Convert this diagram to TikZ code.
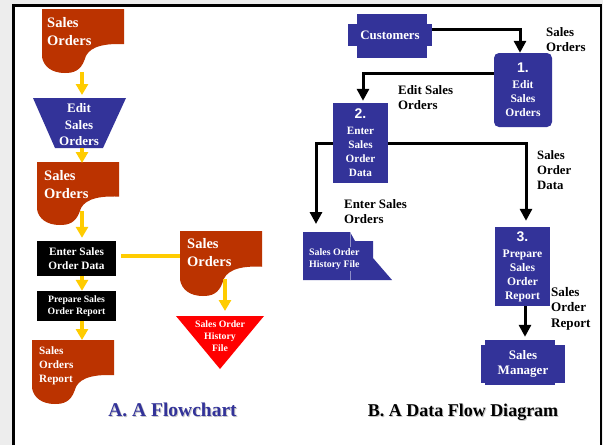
\documentclass[tikz,border=0pt]{standalone}
\usepackage{fontspec}
\setmainfont{Liberation Serif}
\newfontfamily\digitfont{Liberation Sans}
\usetikzlibrary{arrows.meta,calc}
\definecolor{docred}{HTML}{BB3300}
\definecolor{dfdblue}{HTML}{333399}
\definecolor{flowyellow}{HTML}{FFCC00}
\definecolor{storered}{HTML}{FF0000}
\definecolor{pagegray}{HTML}{EDEDED}
\newcommand{\setfs}[2]{\fontsize{#1}{#2}\selectfont}
\newcommand{\stepno}[1]{{\digitfont\bfseries\setfs{14}{14}#1}\\[2pt]}

\begin{document}
\begin{tikzpicture}[x=1pt,y=-1pt,
  % document sheet with a wavy lower edge, drawn in a unit box
  docsheet/.pic={\fill[docred] (0,0) -- (1,0) -- (1,0.55)
      .. controls (0.70,0.53) and (0.55,0.62) .. (0.52,0.79)
      .. controls (0.47,0.97) and (0.38,1.00) .. (0.28,1.00)
      .. controls (0.12,1.00) and (0.02,0.90) .. (0,0.75) -- cycle;},
  doctext/.style={text=white, align=left, anchor=north west, inner sep=0pt},
  whitetext/.style={text=white, align=center, inner sep=0pt},
  blackbox/.style={fill=black, text=white, align=center, inner sep=0pt},
  dfdbox/.style={fill=dfdblue, text=white, align=center, inner sep=0pt},
  lbl/.style={text=black, align=left, anchor=north west, inner sep=0pt},
  caption/.style={anchor=base, inner sep=0pt},
  yarrow/.style={draw=flowyellow, line width=4pt, -{Triangle[length=11pt,width=12pt,fill=flowyellow]}},
  yline/.style={draw=flowyellow, line width=4.5pt},
  dfdarrow/.style={draw=black, line width=3pt, -{Triangle[length=12pt,width=12pt]}}
]
\useasboundingbox (0,0) rectangle (603,445);
% page and frame
\fill[pagegray] (0,0) rectangle (603,445);
\fill[white] (13.5,5.5) rectangle (601,445);
\draw[line width=3pt] (13.5,445) -- (13.5,5.5) -- (601,5.5);
\draw[line width=2.5pt] (601,4) -- (601,445);

% ---------- A. flowchart ----------
\coordinate (colA) at (82,0);
\pic[xscale=82,yscale=64] at (42,9) {docsheet};
\node[doctext, font=\bfseries\setfs{14.5}{18}] (doc1) at (47,17) {Sales\\Orders};

\fill[dfdblue] (33,98) -- (126,98) -- (103,148) -- (55,148) -- cycle;
\node[whitetext, font=\bfseries\setfs{13}{16.5}] (edit) at (79,125) {Edit\\Sales\\Orders};

\pic[xscale=82,yscale=63] at (37,162) {docsheet};
\node[doctext, font=\bfseries\setfs{14.5}{18}] (doc2) at (44,170) {Sales\\Orders};

\node[blackbox, minimum width=79pt, minimum height=35pt, font=\bfseries\setfs{11.3}{14}]
  (enter) at (76.5,258.5) {Enter Sales\\Order Data};
\node[blackbox, minimum width=79pt, minimum height=30pt, font=\bfseries\setfs{9.75}{11.5}]
  (prep) at (76.5,306) {Prepare Sales\\Order Report};

\pic[xscale=82,yscale=64] at (32,340) {docsheet};
\node[doctext, font=\bfseries\setfs{11.2}{14}] (doc3) at (39,347) {Sales\\Orders\\Report};

\pic[xscale=82,yscale=65] at (180,231) {docsheet};
\node[doctext, font=\bfseries\setfs{14.5}{18}] (doc4) at (187,238) {Sales\\Orders};

\fill[storered] (176,316) -- (264,316) -- (220,369) -- cycle;
\node[whitetext, font=\bfseries\setfs{9.8}{12}] (hist) at (220,336.5) {Sales Order\\History\\File};

% flow connectors
\coordinate (doc1-out) at (82,72);
\coordinate (edit-in) at (82,95);
\coordinate (edit-out) at (82,148);
\coordinate (doc2-in) at (82,163);
\coordinate (doc2-out) at (82,211);
\coordinate (doc3-in) at (82,340);
\coordinate (doc4-left) at (180,256);
\coordinate (doc4-out) at (225,279);
\coordinate (hist-in) at (225,311);
\draw[yarrow] (doc1-out) -- (edit-in);
\draw[yarrow] (edit-out) -- (doc2-in);
\draw[yarrow, shorten >=3pt] (doc2-out) -- (enter.north -| colA);
\draw[yarrow] (enter.south -| colA) -- (prep.north -| colA);
\draw[yarrow] (prep.south -| colA) -- (doc3-in);
\draw[yline] ([xshift=5pt,yshift=2.5pt]enter.east) -- (doc4-left);
\draw[yarrow] (doc4-out) -- (hist-in);

\node[caption, text=gray!45, font=\bfseries\setfs{19.5}{22}] (capAshade) at (173.5,417.5) {A. A Flowchart};
\node[caption, text=dfdblue, font=\bfseries\setfs{19.5}{22}] (capA) at (172.5,416.5) {A. A Flowchart};

% ---------- B. data flow diagram ----------
\fill[dfdblue] (357,14) rectangle (427,58);
\node[dfdbox, minimum width=84pt, minimum height=22pt, font=\bfseries\setfs{12.9}{15}]
  (cust) at (390,35) {Customers};

\node[dfdbox, rounded corners=5pt, minimum width=58pt, minimum height=74pt, font=\bfseries\setfs{11.5}{14}]
  (p1) at (523,90) {\stepno{1.}Edit\\Sales\\Orders};
\node[dfdbox, minimum width=55pt, minimum height=80pt, font=\bfseries\setfs{11.2}{14}]
  (p2) at (360.5,143) {\stepno{2.}Enter\\Sales\\Order\\Data};
\node[dfdbox, minimum width=55pt, minimum height=79pt, font=\bfseries\setfs{11.6}{14}]
  (p3) at (522.5,266.5) {\stepno{3.}Prepare\\Sales\\Order\\Report};

\fill[dfdblue] (485,340) rectangle (555,385);
\node[dfdbox, minimum width=84pt, minimum height=38pt, font=\bfseries\setfs{13}{15.5}]
  (mgr) at (523,364) {Sales\\Manager};

% data store: a folder-like block with a faint seam behind its label
\fill[dfdblue] (303,232) -- (350,232) -- (355,241) -- (373,241) -- (373,258)
  -- (392,280) -- (303,280) -- cycle;
\draw[dfdblue!55!white, line width=0.4pt] (350,233) -- (350,280);
\node[lbl, text=white, fill=dfdblue, inner sep=1.5pt, font=\bfseries\setfs{9.9}{12.3}]
  (store) at (307.5,246.5) {Sales Order\\History File};
\coordinate (store-in) at (316,224);

\draw[dfdarrow] ([yshift=6pt]cust.east) -| ([xshift=-3pt]p1.north);
\draw[dfdarrow] ([yshift=17pt]p1.west) -| ([xshift=2.5pt,yshift=2pt]p2.north);
\draw[dfdarrow] (p2.west) -| (store-in);
\draw[dfdarrow] (p2.east) -| ([xshift=3.5pt,yshift=6pt]p3.north);
\draw[dfdarrow] ([xshift=2.5pt]p3.south) -- ([xshift=2pt,yshift=8pt]mgr.north);

\node[lbl, font=\bfseries\setfs{12.9}{15.7}] (l-so) at (546,27) {Sales\\Orders};
\node[lbl, font=\bfseries\setfs{12.9}{15.7}] (l-eso) at (398,85) {Edit Sales\\Orders};
\node[lbl, font=\bfseries\setfs{12.9}{15.7}] (l-enso) at (344,199) {Enter Sales\\Orders};
\node[lbl, font=\bfseries\setfs{12.75}{15.3}] (l-sod) at (537,150) {Sales\\Order\\Data};
\node[lbl, font=\bfseries\setfs{13.1}{15.7}] (l-sor) at (551,287) {Sales\\Order\\Report};

\node[caption, text=gray!45, font=\bfseries\setfs{18}{22}] (capBshade) at (464,417.7) {B. A Data Flow Diagram};
\node[caption, text=black, font=\bfseries\setfs{18}{22}] (capB) at (463,416.7) {B. A Data Flow Diagram};
\end{tikzpicture}
\end{document}
